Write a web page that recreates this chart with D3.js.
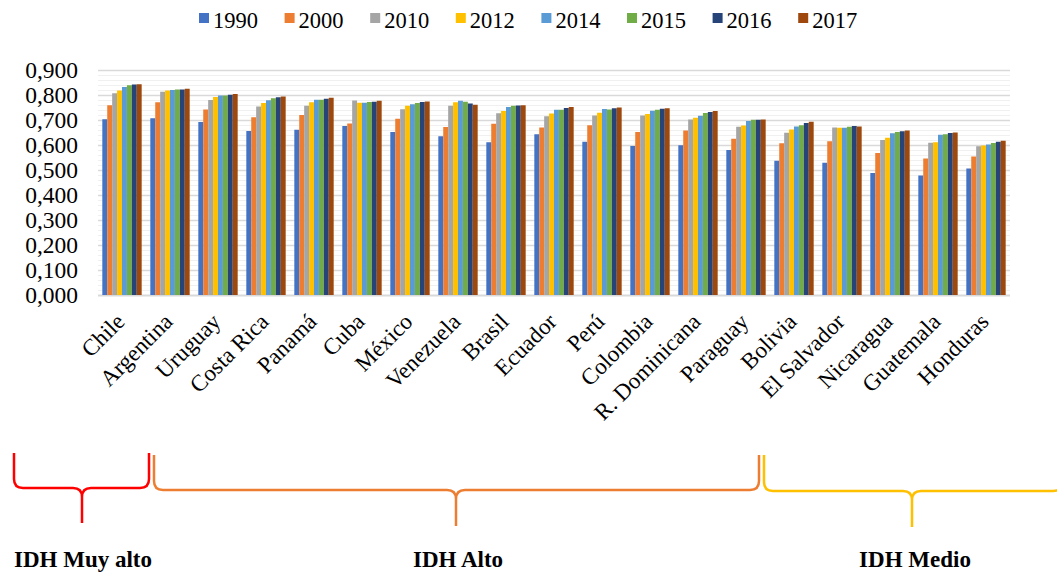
<!DOCTYPE html>
<meta charset="utf-8">
<script src="https://d3js.org/d3.v7.min.js"></script>
<style>
  body { margin: 0; background: #fff; }
  svg text { font-family: "Liberation Serif", "Times New Roman", serif; }
</style>
<div id="my_dataviz"></div>
<script>
// data (IDH by country and year)
var countries = ["Chile", "Argentina", "Uruguay", "Costa Rica", "Panamá", "Cuba", "México",
  "Venezuela", "Brasil", "Ecuador", "Perú", "Colombia", "R. Dominicana", "Paraguay",
  "Bolivia", "El Salvador", "Nicaragua", "Guatemala", "Honduras"];
var years = ["1990", "2000", "2010", "2012", "2014", "2015", "2016", "2017"];

var v1990 = [0.703, 0.707, 0.692, 0.656, 0.661, 0.676, 0.652, 0.635, 0.611, 0.643, 0.613, 0.596, 0.599, 0.580, 0.537, 0.529, 0.488, 0.478, 0.506];
var v2000 = [0.759, 0.771, 0.742, 0.711, 0.720, 0.686, 0.705, 0.672, 0.685, 0.670, 0.679, 0.652, 0.658, 0.625, 0.607, 0.615, 0.568, 0.546, 0.554];
var v2010 = [0.807, 0.813, 0.780, 0.754, 0.757, 0.778, 0.743, 0.757, 0.727, 0.715, 0.718, 0.718, 0.702, 0.673, 0.649, 0.670, 0.620, 0.609, 0.595];
var v2012 = [0.818, 0.818, 0.792, 0.768, 0.771, 0.769, 0.757, 0.771, 0.736, 0.726, 0.729, 0.724, 0.709, 0.678, 0.662, 0.669, 0.629, 0.611, 0.598];
var v2014 = [0.832, 0.820, 0.798, 0.779, 0.781, 0.769, 0.763, 0.777, 0.752, 0.741, 0.744, 0.737, 0.717, 0.696, 0.674, 0.669, 0.647, 0.641, 0.602];
var v2015 = [0.839, 0.822, 0.798, 0.787, 0.781, 0.772, 0.768, 0.773, 0.757, 0.741, 0.742, 0.741, 0.728, 0.701, 0.679, 0.673, 0.652, 0.643, 0.608];
var v2016 = [0.842, 0.822, 0.801, 0.791, 0.785, 0.773, 0.772, 0.766, 0.758, 0.748, 0.747, 0.745, 0.732, 0.701, 0.688, 0.676, 0.655, 0.648, 0.613];
var v2017 = [0.843, 0.825, 0.804, 0.794, 0.789, 0.777, 0.774, 0.761, 0.759, 0.752, 0.750, 0.747, 0.736, 0.702, 0.693, 0.674, 0.658, 0.650, 0.617];
var series = [v1990, v2000, v2010, v2012, v2014, v2015, v2016, v2017];

var yTicks = [0, 0.1, 0.2, 0.3, 0.4, 0.5, 0.6, 0.7, 0.8, 0.9];
var colors = ["#4472C4", "#ED7D31", "#A5A5A5", "#FFC000", "#5B9BD5", "#70AD47", "#264478", "#9E480E"];

// groups shown by the braces below the chart
var groups = ["IDH Muy alto", "IDH Alto", "IDH Medio"];
var groupColors = ["#FF0000", "#ED7D31", "#FFC000"];

var W = 1057, H = 574;
var svg = d3.select("#my_dataviz").append("svg")
    .attr("width", W).attr("height", H);

// scales
var x = d3.scaleBand().domain(countries).range([98, 1010])
    .paddingInner(0.18).paddingOuter(0.09);
var xYear = d3.scaleBand().domain(years).range([0, x.bandwidth()]);
var y = d3.scaleLinear().domain([0, 0.9]).range([295, 70]);

// minor gridlines
svg.append("g").selectAll("line")
  .data(d3.range(0, 0.9, 0.02).filter(function(d) { return Math.round(d * 100) % 10 != 0; }))
  .enter().append("line")
    .attr("x1", 98).attr("x2", 1010)
    .attr("y1", function(d) { return Math.round(y(d)) + 0.5; })
    .attr("y2", function(d) { return Math.round(y(d)) + 0.5; })
    .attr("stroke", "#f0f0f0").attr("stroke-width", 1);

// major gridlines
svg.append("g").selectAll("line")
  .data(yTicks)
  .enter().append("line")
    .attr("x1", 98).attr("x2", 1010)
    .attr("y1", function(d) { return Math.round(y(d)) + 0.5; })
    .attr("y2", function(d) { return Math.round(y(d)) + 0.5; })
    .attr("stroke", "#d9d9d9").attr("stroke-width", function(d) { return d == 0 ? 2 : 1.3; });

// y tick labels
svg.append("g").selectAll("text")
  .data(yTicks)
  .enter().append("text")
    .attr("x", 78)
    .attr("y", function(d) { return y(d) + 7.5; })
    .attr("text-anchor", "end")
    .style("font-size", "23.5px")
    .text(function(d) { return d3.format(".3f")(d).replace(".", ","); });

// bars
svg.append("g").selectAll("g")
  .data(series)
  .enter().append("g")
    .attr("fill", function(d, i) { return colors[i]; })
    .each(function(vals, i) {
      d3.select(this).selectAll("rect")
        .data(vals)
        .enter().append("rect")
          .attr("x", function(d, j) { return x(countries[j]) + xYear(years[i]); })
          .attr("y", function(d) { return y(d); })
          .attr("width", xYear.bandwidth())
          .attr("height", function(d) { return y(0) - y(d); });
    });

// x labels, rotated
svg.append("g").selectAll("text")
  .data(countries)
  .enter().append("text")
    .attr("transform", function(d) {
      return "translate(" + (x(d) + x.bandwidth() / 2 + 4) + ",323)rotate(-45)";
    })
    .attr("text-anchor", "end")
    .style("font-size", "23px")
    .text(function(d) { return d; });

// legend
var legend = svg.append("g");
years.forEach(function(yr, i) {
  var lx = 199 + i * 85.6;
  legend.append("rect")
    .attr("x", lx).attr("y", 13).attr("width", 10).attr("height", 10)
    .attr("fill", colors[i]);
  legend.append("text")
    .attr("x", lx + 14).attr("y", 27.5)
    .style("font-size", "22.5px")
    .text(yr);
});

// braces
function brace(x0, x1, cx, top, mid, tip, r) {
  var p = d3.path();
  p.moveTo(x0, top);
  p.lineTo(x0, mid - r);
  p.quadraticCurveTo(x0, mid, x0 + r, mid);
  p.lineTo(cx - r, mid);
  p.quadraticCurveTo(cx, mid, cx, mid + r);
  p.lineTo(cx, tip);
  p.moveTo(cx, mid + r);
  p.quadraticCurveTo(cx, mid, cx + r, mid);
  p.lineTo(x1 - r, mid);
  p.quadraticCurveTo(x1, mid, x1, mid - r);
  p.lineTo(x1, top);
  return p.toString();
}
var braceDefs = [
  {x0: 14, x1: 149, cx: 82, top: 453, mid: 488, tip: 523, lx: 83},
  {x0: 154, x1: 759, cx: 456, top: 455, mid: 490, tip: 526, lx: 458},
  {x0: 764, x1: 1062, cx: 912, top: 455, mid: 491, tip: 527, lx: 915}
];
braceDefs.forEach(function(b, i) {
  svg.append("path")
    .attr("d", brace(b.x0, b.x1, b.cx, b.top, b.mid, b.tip, 9))
    .attr("fill", "none")
    .attr("stroke", groupColors[i])
    .attr("stroke-width", 2.5);
  svg.append("text")
    .attr("x", b.lx).attr("y", 567)
    .attr("text-anchor", "middle")
    .style("font-size", "23px")
    .style("font-weight", "bold")
    .text(groups[i]);
});
</script>
